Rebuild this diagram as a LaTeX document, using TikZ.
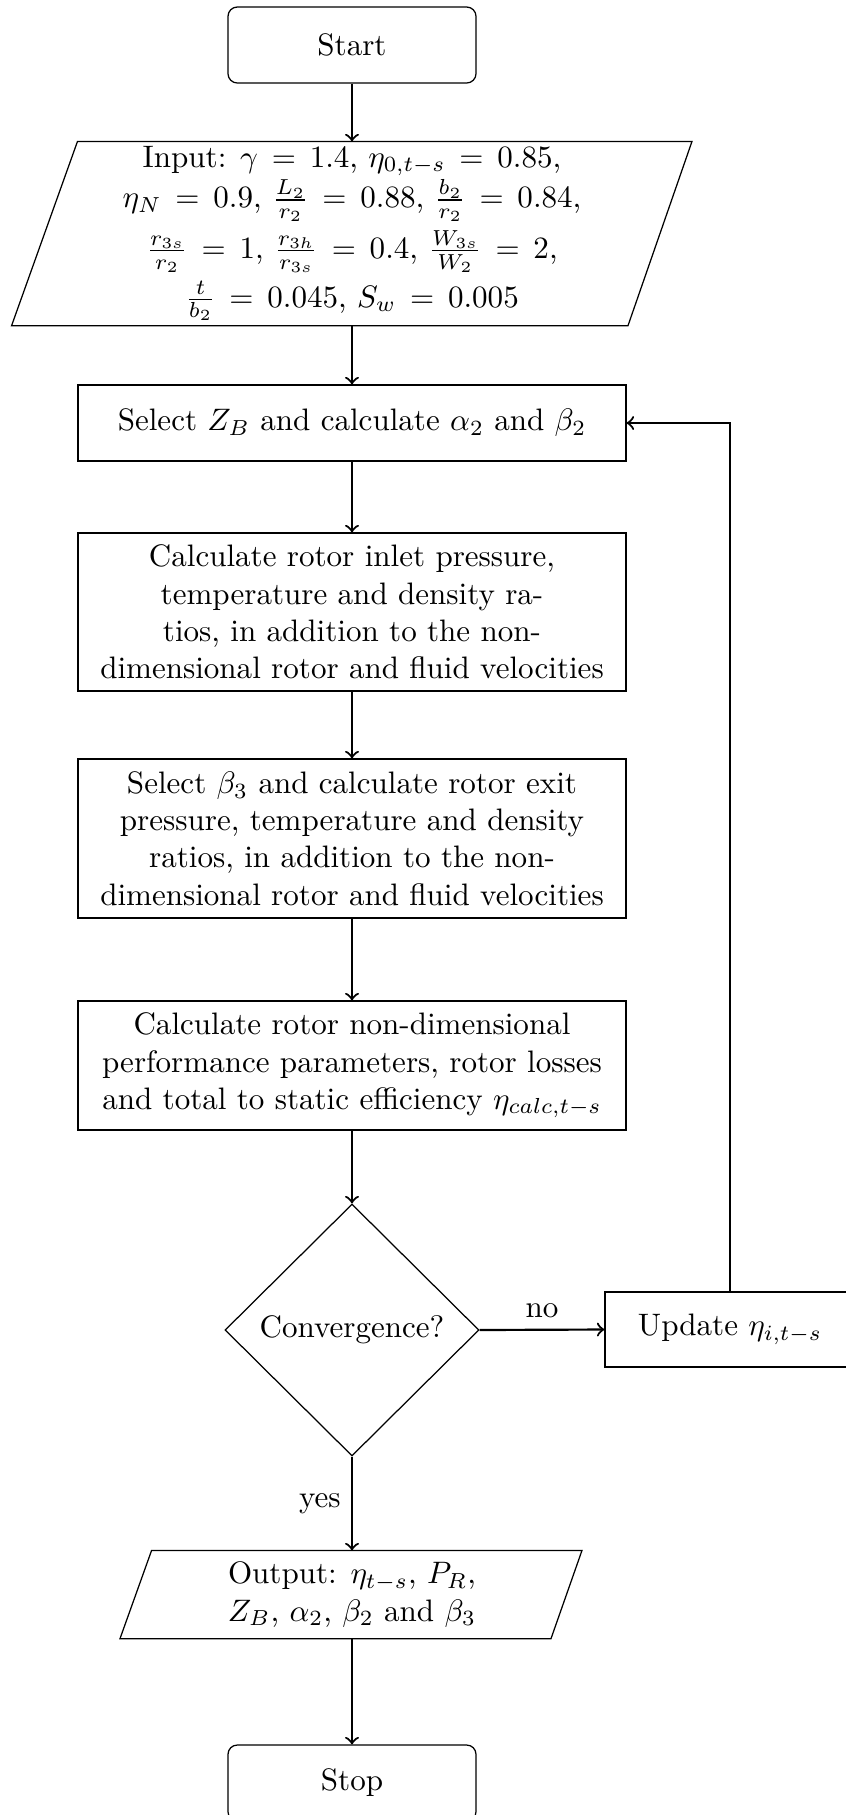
\documentclass[tikz,border=0pt]{standalone}
\usetikzlibrary{shapes.geometric,calc}
\def\s{0.322}
\begin{document}
\begin{tikzpicture}[x=\s pt,y=-\s pt,
  box/.style={draw, line width=0.4pt, minimum width=548*\s pt, align=center, inner sep=0pt},
  term/.style={draw, line width=0.4pt, rounded corners=3pt, minimum width=248*\s pt, minimum height=76*\s pt, inner sep=0pt},
  plain/.style={align=center, inner sep=0pt},
  para/.style={line width=0.4pt},
  arr/.style={->, line width=0.7pt}]
\useasboundingbox (0,0) rectangle (846,1815);
% nodes
\node[term] (start) at (352,45) {Start};
\node[plain, minimum height=183*\s pt, font={\thickmuskip=8mu plus 4mu}] (in) at (352,233.5)
  {Input: $\gamma = 1.4$, $\eta_{0,t-s} = 0.85$,\\[1pt]
   $\eta_N = 0.9$, $\frac{L_2}{r_2} = 0.88$, $\frac{b_2}{r_2} = 0.84$,\\[2pt]
   $\frac{r_{3s}}{r_2} = 1$, $\frac{r_{3h}}{r_{3s}} = 0.4$, $\frac{W_{3s}}{W_2} = 2$,\\[2pt]
   $\frac{t}{b_2} = 0.045$, $S_w = 0.005$};
\draw[para] ($(in.north)+(-274.5,0)$) -- ($(in.north)+(340,0)$) -- ($(in.south)+(276,0)$) -- ($(in.south)+(-340.4,0)$) -- cycle;
\node[box, minimum height=76*\s pt] (sel) at (352,423) {Select $Z_B$ and calculate $\alpha_2$ and $\beta_2$};
\node[box, minimum height=158*\s pt] (inlet) at (352,612)
  {Calculate rotor inlet pressure,\\ temperature and density ra-\\ tios, in addition to the non-\\ dimensional rotor and fluid velocities};
\node[box, minimum height=159*\s pt] (exit) at (352,838.5)
  {Select $\beta_3$ and calculate rotor exit\\ pressure, temperature and density\\ ratios, in addition to the non-\\ dimensional rotor and fluid velocities};
\node[box, minimum height=129*\s pt] (perf) at (352,1065.5)
  {Calculate rotor non-dimensional\\ performance parameters, rotor losses\\ and total to static efficiency $\eta_{calc,t-s}$};
\node[draw, line width=0.4pt, diamond, aspect=1, minimum width=254*\s pt, minimum height=252*\s pt, inner sep=0pt] (conv) at (352,1330) {Convergence?};
\node[draw, line width=0.4pt, minimum width=250*\s pt, minimum height=75*\s pt, inner sep=0pt] (up) at (730,1329.5) {Update $\eta_{i,t-s}$};
\node[plain, minimum height=87*\s pt] (out) at (352,1594.5)
  {Output: $\eta_{t-s}$, $P_R$,\\ $Z_B$, $\alpha_2$, $\beta_2$ and $\beta_3$};
\draw[para] ($(out.north)+(-200.4,0)$) -- ($(out.north)+(230,0)$) -- ($(out.south)+(199,0)$) -- ($(out.south)+(-232,0)$) -- cycle;
\node[term] (stop) at (352,1783) {Stop};
% connectors
\draw[arr] (start.south) -- (in.north);
\draw[arr] (in.south) -- (sel.north);
\draw[arr] (sel.south) -- (inlet.north);
\draw[arr] (inlet.south) -- (exit.north);
\draw[arr] (exit.south) -- (perf.north);
\draw[arr] (perf.south) -- (conv.north);
\draw[arr] (conv.east) -- node[above] {no} (up.west);
\draw[arr] (up.north) |- (sel.east);
\draw[arr] (conv.south) -- node[left] {yes} (out.north);
\draw[arr] (out.south) -- (stop.north);
\end{tikzpicture}
\end{document}
